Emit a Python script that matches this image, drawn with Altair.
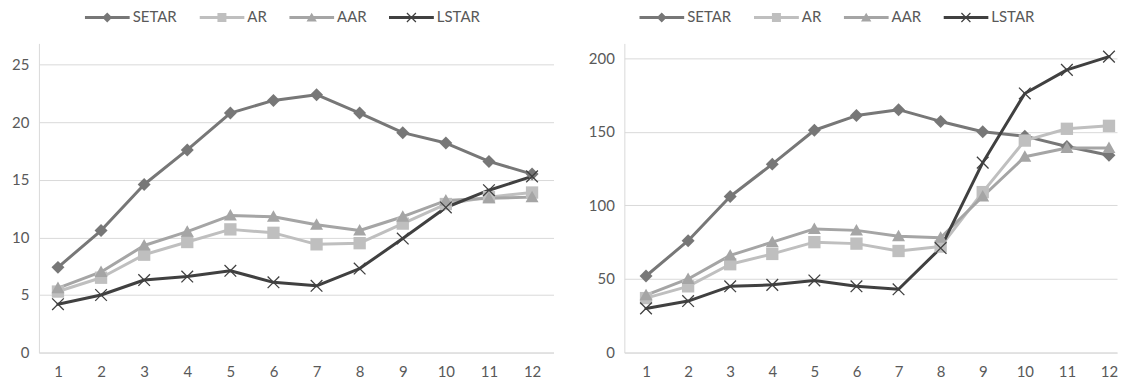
import altair as alt
import pandas as pd

# ---------------- data ----------------
steps = list(range(1, 13))
series_names = ["SETAR", "AR", "AAR", "LSTAR"]
series_colors = ["#777777", "#BFBFBF", "#A5A5A5", "#404040"]

left_setar = [7.4, 10.6, 14.6, 17.6, 20.8, 21.9, 22.4, 20.8, 19.1, 18.2, 16.6, 15.5]
left_ar = [5.3, 6.5, 8.5, 9.6, 10.7, 10.4, 9.4, 9.5, 11.2, 12.9, 13.5, 13.9]
left_aar = [5.6, 7.0, 9.3, 10.5, 11.9, 11.8, 11.1, 10.6, 11.8, 13.2, 13.4, 13.5]
left_lstar = [4.2, 5.0, 6.3, 6.6, 7.1, 6.1, 5.8, 7.3, 9.9, 12.6, 14.1, 15.3]

right_setar = [52, 76, 106, 128, 151, 161, 165, 157, 150, 147, 140, 134]
right_ar = [37, 45, 60, 67, 75, 74, 69, 72, 109, 144, 152, 154]
right_aar = [39, 50, 66, 75, 84, 83, 79, 78, 106, 133, 139, 139]
right_lstar = [30, 35, 45, 46, 49, 45, 43, 71, 129, 176, 192, 201]

left_ticks = [0, 5, 10, 15, 20, 25]
right_ticks = [0, 50, 100, 150, 200]

# ---------------- styles ----------------
FONT = "Lato"
TEXT = "#595959"
GRID = "#D9D9D9"

# marker shapes on the plot (unit box [-1, 1])
X_PATH = ("M-0.83,-0.97L0.97,0.83L0.83,0.97L-0.97,-0.83Z"
          "M-0.97,0.83L0.83,-0.97L0.97,-0.83L-0.83,0.97Z")
marker_paths = [
    "M0,-1L1,0L0,1L-1,0Z",
    "M-0.95,-0.95H0.95V0.95H-0.95Z",
    "M0,-1L1,0.78L-1,0.78Z",
    X_PATH,
]

# legend symbols: line segment with a small marker
BAR = "M-1,-0.067H1V0.067H-1Z"
legend_paths = [
    BAR + "M0,-0.222L0.222,0L0,0.222L-0.222,0Z",
    BAR + "M-0.2,-0.2H0.2V0.2H-0.2Z",
    BAR + "M0,-0.21L0.23,0.18L-0.23,0.18Z",
    BAR + "M-0.181,-0.219L0.219,0.181L0.181,0.219L-0.219,-0.181Z"
          "M-0.219,0.181L0.181,-0.219L0.219,-0.181L-0.181,0.219Z",
]


def panel(vals, ymax, ticks, height, width, pad, align, extent, lx, ly):
    rows = []
    for name, arr in zip(series_names, vals):
        for s, v in zip(steps, arr):
            rows.append({"step": s, "series": name, "value": v})
    df = pd.DataFrame(rows)

    x = alt.X(
        "step:O",
        sort=steps,
        scale=alt.Scale(type="point", padding=pad, align=align),
        axis=alt.Axis(
            title=None, labelAngle=0, ticks=False, tickSize=0, grid=False,
            domain=True, domainColor=GRID, domainWidth=1,
            labelPadding=12, labelFont=FONT, labelFontSize=15, labelColor=TEXT,
        ),
    )
    y = alt.Y(
        "value:Q",
        scale=alt.Scale(domain=[0, ymax], nice=False, zero=True),
        axis=alt.Axis(
            title=None, values=ticks, grid=True, gridColor=GRID, gridWidth=1,
            ticks=False, tickSize=0, domain=True, domainColor=GRID, domainWidth=1,
            labelPadding=10, labelFont=FONT, labelFontSize=15, labelColor=TEXT,
            minExtent=extent, maxExtent=extent,
        ),
    )

    def cscale():
        return alt.Scale(domain=series_names, range=series_colors)

    lines = alt.Chart(df).mark_line(
        strokeWidth=3, strokeJoin="round", strokeCap="round"
    ).encode(
        x=x, y=y,
        color=alt.Color("series:N", scale=cscale(), legend=None),
        detail="series:N",
    )

    points = alt.Chart(df).mark_point(
        filled=True, opacity=1, size=169, strokeWidth=0
    ).encode(
        x=x, y=y,
        color=alt.Color("series:N", scale=cscale(), legend=None),
        shape=alt.Shape(
            "series:N",
            scale=alt.Scale(domain=series_names, range=marker_paths),
            legend=None,
        ),
    )

    def make_legend():
        return alt.Legend(
            title=None, orient="none", legendX=lx, legendY=ly,
            direction="horizontal", columns=4, columnPadding=22,
            symbolSize=2025, clipHeight=16, labelOffset=3,
            symbolStrokeWidth=0, symbolOpacity=1,
            labelFont=FONT, labelFontSize=15, labelColor=TEXT, padding=0,
        )

    # legend-only layer: no rows, explicit domains
    key = alt.Chart(df).transform_filter("false").mark_point(
        filled=True, opacity=1, size=2025, strokeWidth=0
    ).encode(
        color=alt.Color("series:N", scale=cscale(), legend=make_legend()),
        shape=alt.Shape(
            "series:N",
            scale=alt.Scale(domain=series_names, range=legend_paths),
            legend=make_legend(),
        ),
    )

    return (
        alt.layer(lines, points, key)
        .resolve_scale(color="independent", shape="independent")
        .properties(width=width, height=height)
    )


left = panel(
    [left_setar, left_ar, left_aar, left_lstar], 26.85, left_ticks,
    310, 516, 0.47, 0.47, 31, 46, -34,
)
right = panel(
    [right_setar, right_ar, right_aar, right_lstar], 210, right_ticks,
    310, 494, 0.353, 0.73, 35, 15, -34,
)

chart = (
    alt.hconcat(left, right, spacing=34)
    .resolve_scale(color="independent", shape="independent", x="independent", y="independent")
    .resolve_legend(color="independent", shape="independent")
    .properties(padding={"left": 0, "top": 1, "right": 0, "bottom": 0}, background="white")
    .configure_view(stroke=None)
)

chart.save("out.html", embed_options={"renderer": "svg", "actions": False})
